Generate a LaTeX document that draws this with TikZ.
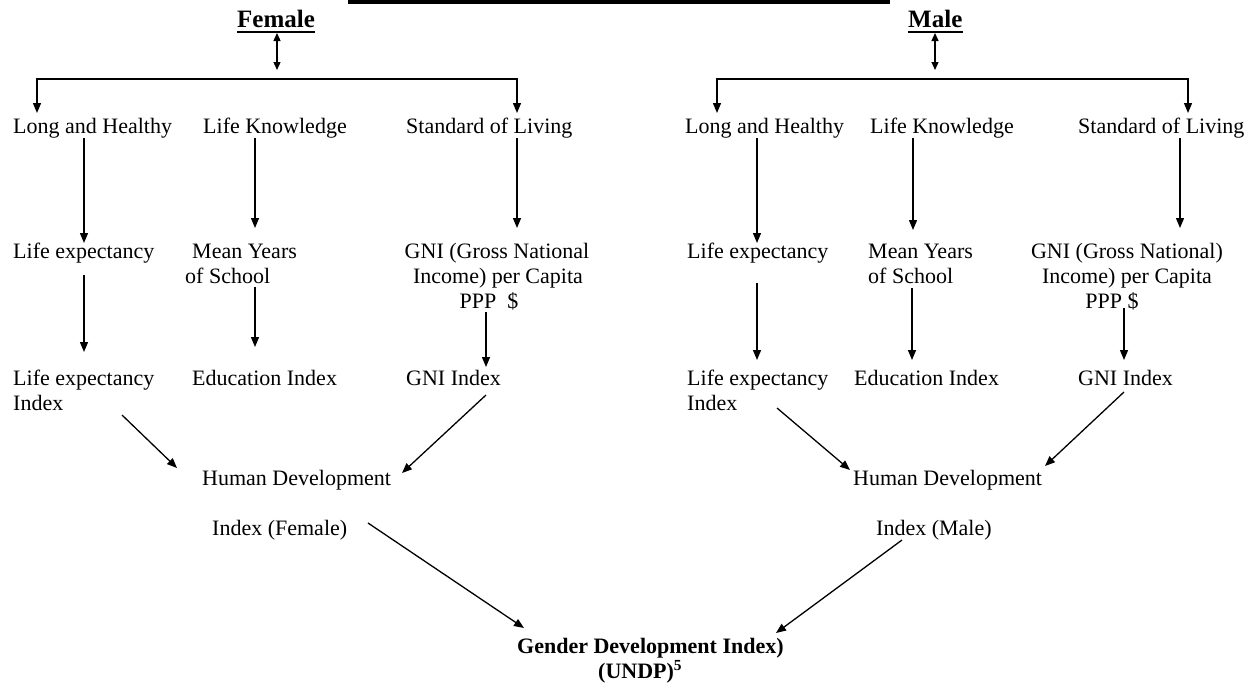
\documentclass[tikz,border=0pt]{standalone}
\usepackage{fontspec}
\setmainfont{Liberation Serif}
\usetikzlibrary{arrows.meta}
\begin{document}
\begin{tikzpicture}[x=1pt,y=1pt,
  txt/.style={inner sep=0pt, anchor=base west, font=\fontsize{22}{25}\selectfont},
  ctxt/.style={inner sep=0pt, anchor=base, font=\fontsize{22}{25}\selectfont},
  btxt/.style={inner sep=0pt, anchor=base west, font=\fontsize{22}{25}\selectfont\bfseries},
  ttl/.style={inner sep=0pt, anchor=base west, font=\fontsize{25}{28}\selectfont\bfseries},
  uline/.style={line width=1.4pt},
  arr/.style={line width=1.3pt, -{Triangle[length=10pt,width=8pt]}},
  barr/.style={line width=1.3pt, {Triangle[length=10pt,width=8pt]}-{Triangle[length=10pt,width=8pt]}},
  darr/.style={line width=1.3pt, {Triangle[length=8pt,width=7pt]}-{Triangle[length=8pt,width=7pt]}}]
\useasboundingbox (0,0) rectangle (1252,-686);
% top bar
\fill (348,0) rectangle (890,-3.5);

% ---------------- Female ----------------
\node[ttl] (ffem) at (237,-27) {Female};
\draw[uline] ([yshift=-5pt]ffem.base west) -- ([yshift=-5pt]ffem.base east);
\node[txt] (flh) at (13,-133) {Long and Healthy};
\node[txt] (flk) at (203,-133) {Life Knowledge};
\node[txt] (fsl) at (406,-133) {Standard of Living};
\node[txt] (fle) at (13,-258) {Life expectancy};
\node[txt] (fmy1) at (192,-258) {Mean Years};
\node[txt] (fmy2) at (185,-283) {of School};
\node[ctxt] (fg1) at (497,-258) {GNI (Gross National};
\node[ctxt] (fg2) at (498,-283) {Income) per Capita};
\node[ctxt] (fg3) at (489,-308) {PPP \ \$};
\node[txt] (flei1) at (13,-385) {Life expectancy};
\node[txt] (flei2) at (13,-410) {Index};
\node[txt] (fei) at (192,-385) {Education Index};
\node[txt] (fgi) at (406,-385) {GNI Index};
\node[txt] (fhd1) at (202,-485) {Human Development};
\node[txt] (fhd2) at (212,-535) {Index (Female)};

\draw[darr] ([yshift=-6pt]277,0 |- ffem.base) -- ([yshift=-43pt]277,0 |- ffem.base);
\draw[barr] ([yshift=20pt]37,0 |- flh.base) |- ([yshift=54pt]517,0 |- fsl.base) -- ([yshift=20pt]517,0 |- fsl.base);
\draw[arr] ([yshift=-5pt]84,0 |- flh.base) -- ([yshift=15pt]84,0 |- fle.base);
\draw[arr] ([yshift=-5pt]255,0 |- flk.base) -- ([yshift=30pt]255,0 |- fmy1.base);
\draw[arr] ([yshift=-5pt]517,0 |- fsl.base) -- ([yshift=30pt]517,0 |- fg1.base);
\draw[arr] ([yshift=-17pt]84,0 |- fle.base) -- ([yshift=33pt]84,0 |- flei1.base);
\draw[arr] ([yshift=-4pt]255,0 |- fmy2.base) -- ([yshift=38pt]255,0 |- fei.base);
\draw[arr] ([yshift=-4pt]486,0 |- fg3.base) -- ([yshift=18pt]486,0 |- fgi.base);
\draw[arr] ([yshift=-5pt]122,0 |- flei2.base) -- ([yshift=17pt]177,0 |- fhd1.base);
\draw[arr] ([yshift=-10pt]486,0 |- fgi.base) -- ([yshift=12pt]402,0 |- fhd1.base);

% ---------------- Male ----------------
\node[ttl] (mmal) at (908,-27) {Male};
\draw[uline] ([yshift=-5pt]mmal.base west) -- ([yshift=-5pt]mmal.base east);
\node[txt] (mlh) at (685,-133) {Long and Healthy};
\node[txt] (mlk) at (870,-133) {Life Knowledge};
\node[txt] (msl) at (1078,-133) {Standard of Living};
\node[txt] (mle) at (687,-258) {Life expectancy};
\node[txt] (mmy1) at (868,-258) {Mean Years};
\node[txt] (mmy2) at (868,-283) {of School};
\node[ctxt] (mg1) at (1127,-258) {GNI (Gross National)};
\node[ctxt] (mg2) at (1127,-283) {Income) per Capita};
\node[ctxt] (mg3) at (1112,-308) {PPP \$};
\node[txt] (mlei1) at (687,-385) {Life expectancy};
\node[txt] (mlei2) at (687,-410) {Index};
\node[txt] (mei) at (854,-385) {Education Index};
\node[txt] (mgi) at (1078,-385) {GNI Index};
\node[txt] (mhd1) at (853,-485) {Human Development};
\node[txt] (mhd2) at (876,-535) {Index (Male)};

\draw[darr] ([yshift=-6pt]935,0 |- mmal.base) -- ([yshift=-43pt]935,0 |- mmal.base);
\draw[barr] ([yshift=20pt]717,0 |- mlh.base) |- ([yshift=54pt]1188,0 |- msl.base) -- ([yshift=20pt]1188,0 |- msl.base);
\draw[arr] ([yshift=-5pt]757,0 |- mlh.base) -- ([yshift=15pt]757,0 |- mle.base);
\draw[arr] ([yshift=-5pt]913,0 |- mlk.base) -- ([yshift=28pt]913,0 |- mmy1.base);
\draw[arr] ([yshift=-5pt]1180,0 |- msl.base) -- ([yshift=30pt]1180,0 |- mg1.base);
\draw[arr] ([yshift=-25pt]757,0 |- mle.base) -- ([yshift=25pt]757,0 |- mlei1.base);
\draw[arr] ([yshift=-5pt]912,0 |- mmy2.base) -- ([yshift=25pt]912,0 |- mei.base);
\draw[arr] ([yshift=0pt]1124,0 |- mg3.base) -- ([yshift=25pt]1124,0 |- mgi.base);
\draw[arr] ([yshift=2pt]777,0 |- mlei2.base) -- ([yshift=15pt]850,0 |- mhd1.base);
\draw[arr] ([yshift=-7pt]1124,0 |- mgi.base) -- ([yshift=19pt]1045,0 |- mhd1.base);

% ---------------- Bottom ----------------
\node[btxt] (gdi1) at (517,-653) {Gender Development Index)};
\node[btxt] (gdi2) at (598,-678) {(UNDP)\textsuperscript{5}};
\draw[arr] ([yshift=12pt]368,0 |- fhd2.base) -- ([yshift=25pt]524,0 |- gdi1.base);
\draw[arr] ([yshift=-5pt]902,0 |- mhd2.base) -- ([yshift=20pt]776,0 |- gdi1.base);
\end{tikzpicture}
\end{document}
